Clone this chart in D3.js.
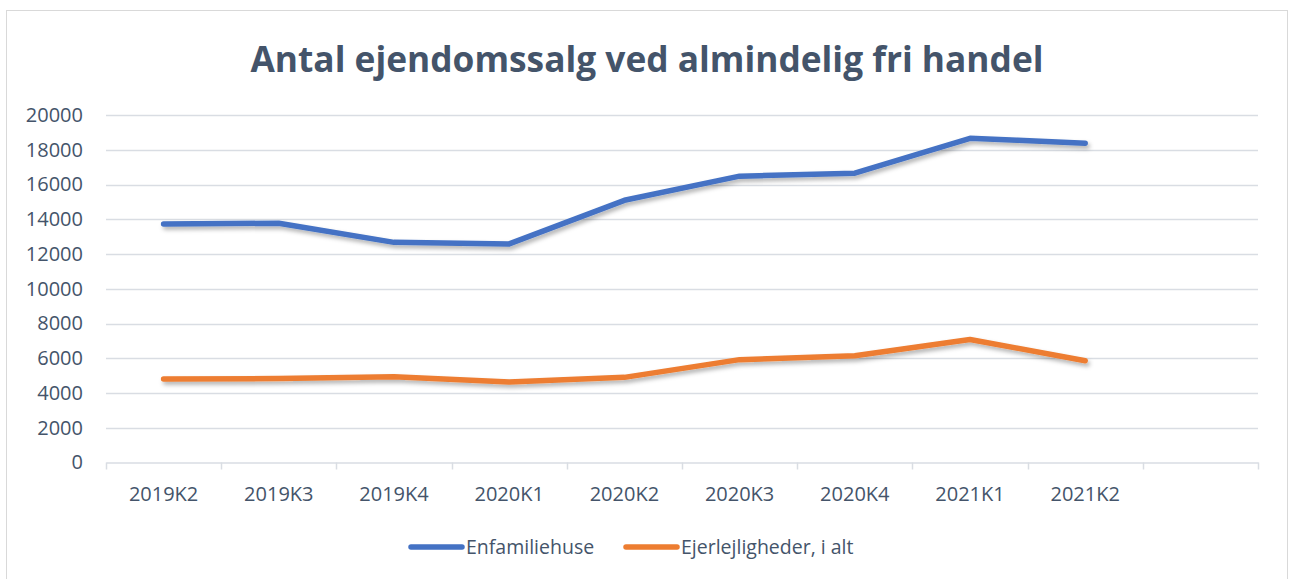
<!DOCTYPE html>
<html>
<head>
<meta charset="utf-8">
<script src="https://cdn.jsdelivr.net/npm/d3@7"></script>
<style>
body{margin:0;background:#fff;}
svg{display:block;font-family:"Open Sans",sans-serif;}
</style>
</head>
<body>
<svg id="chart" width="1290" height="579"></svg>
<script>
// data
var categories = ["2019K2","2019K3","2019K4","2020K1","2020K2","2020K3","2020K4","2021K1","2021K2",""];
var enfamiliehuse = [13730,13770,12670,12580,15090,16480,16650,18660,18380];
var ejerlejligheder = [4800,4830,4930,4630,4900,5920,6140,7080,5860];
var yTicks = [0,2000,4000,6000,8000,10000,12000,14000,16000,18000,20000];
var seriesNames = ["Enfamiliehuse","Ejerlejligheder, i alt"];

var textColor = "#44546A";
var colors = ["#4472C4","#ED7D31"];

var svg = d3.select("#chart");

// chart border
svg.append("rect")
    .attr("x",6.5).attr("y",10.5)
    .attr("width",1281).attr("height",580)
    .attr("fill","none")
    .attr("stroke","#d9d9d9");

// drop shadow for the lines
var defs = svg.append("defs");
var f = defs.append("filter").attr("id","shadow")
    .attr("x","-5%").attr("y","-20%").attr("width","110%").attr("height","160%");
f.append("feDropShadow")
    .attr("dx",2).attr("dy",3)
    .attr("stdDeviation",2)
    .attr("flood-color","#000")
    .attr("flood-opacity",0.3);

var plotLeft = 106, plotRight = 1258, plotTop = 115, plotBottom = 462.5;

var x = d3.scaleBand().domain(categories.map((d,i)=>i)).range([plotLeft,plotRight]);
var y = d3.scaleLinear().domain([0,20000]).range([plotBottom,plotTop]);

// title
svg.append("text")
    .attr("x",647).attr("y",72)
    .attr("text-anchor","middle")
    .style("font-weight",700)
    .style("font-size","36px")
    .attr("fill",textColor)
    .attr("textLength",793)
    .attr("lengthAdjust","spacingAndGlyphs")
    .text("Antal ejendomssalg ved almindelig fri handel");

// gridlines
svg.append("g")
    .selectAll("line")
    .data(yTicks.filter(d=>d>0))
    .join("line")
    .attr("x1",plotLeft).attr("x2",plotRight)
    .attr("y1",d=>Math.round(y(d))+0.5).attr("y2",d=>Math.round(y(d))+0.5)
    .attr("stroke","#d9dde3")
    .attr("stroke-width",1.5);

// y axis labels
var yAxis = d3.axisLeft(y).tickValues(yTicks).tickSize(0).tickPadding(0).tickFormat(d=>d);
var gy = svg.append("g")
    .attr("class","axis")
    .attr("transform","translate(83,0)")
    .call(yAxis);
gy.select(".domain").remove();
gy.selectAll("text")
    .style("font-size","20px")
    .style("font-family","Open Sans")
    .attr("fill",textColor);

// x axis
var xAxis = d3.axisBottom(x).tickSize(0).tickPadding(0).tickFormat(i=>categories[i]);
var gx = svg.append("g")
    .attr("class","axis")
    .attr("transform","translate(0,"+plotBottom+")")
    .call(xAxis);
gx.select(".domain")
    .attr("stroke","#d9dde3")
    .attr("stroke-width",1.5);
gx.selectAll("text")
    .attr("dy",0)
    .attr("y",38)
    .style("font-size","20px")
    .style("font-family","Open Sans")
    .attr("fill",textColor);
// category boundary ticks
var bounds = categories.map((d,i)=>x(i)).concat([plotRight]);
gx.selectAll(".bound")
    .data(bounds)
    .join("line")
    .attr("class","bound")
    .attr("x1",d=>Math.round(d)+0.5).attr("x2",d=>Math.round(d)+0.5)
    .attr("y1",0).attr("y2",7)
    .attr("stroke","#d9dde3")
    .attr("stroke-width",1.5);

// lines
var line = d3.line()
    .x((d,i)=>x(i)+x.bandwidth()/2)
    .y(d=>y(d));

[enfamiliehuse,ejerlejligheder].forEach(function(s,k){
    svg.append("path")
        .datum(s)
        .attr("d",line)
        .attr("fill","none")
        .attr("stroke",colors[k])
        .attr("stroke-width",5.5)
        .attr("stroke-linecap","round")
        .attr("stroke-linejoin","round")
        .attr("filter","url(#shadow)");
});

// legend
var legendX = [411,626];
var leg = svg.append("g");
seriesNames.forEach(function(n,k){
    leg.append("line")
        .attr("x1",legendX[k]).attr("x2",legendX[k]+51)
        .attr("y1",547).attr("y2",547)
        .attr("stroke",colors[k])
        .attr("stroke-width",5.5)
        .attr("stroke-linecap","round");
    leg.append("text")
        .attr("x",legendX[k]+55).attr("y",554)
        .style("font-size","19.5px")
        .attr("fill",textColor)
        .text(n);
});
</script>
</body>
</html>
